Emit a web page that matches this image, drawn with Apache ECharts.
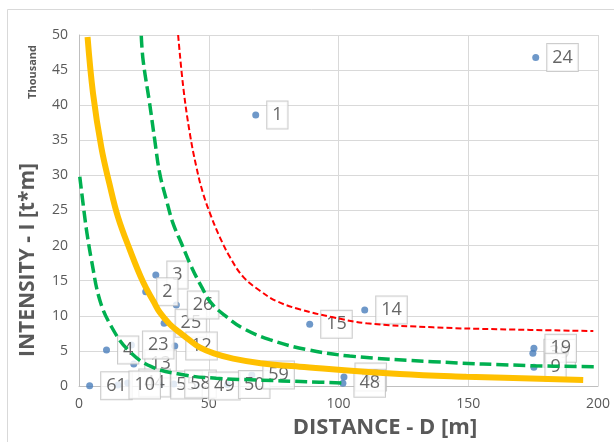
<!DOCTYPE html>
<html><head><meta charset="utf-8">
<script src="https://cdn.jsdelivr.net/npm/echarts@6/dist/echarts.min.js"></script>
<style>html,body{margin:0;padding:0;background:#fff}#c{width:614px;height:442px}</style>
</head><body><div id="c"></div>
<script>
// Measured points: [distance D (m), intensity I (t*m), label]
var points = [
  [68.1, 38600, '1'], [176, 46800, '24'], [29.6, 15800, '3'], [25.7, 13430, '2'],
  [32.8, 8930, '25'], [37.5, 11540, '26'], [10.6, 5130, '4'], [21.1, 3130, '13'],
  [20.2, 5840, '23'], [36.9, 5700, '12'], [4.1, 40, '61'], [18.8, 430, '44'],
  [15.0, 140, '10'], [31.1, 140, '55'], [36.5, 280, '58'], [45.7, 0, '49'],
  [57.2, 200, '50'], [66.6, 1570, '59'], [88.9, 8790, '15'], [110.1, 10830, '14'],
  [102.1, 1280, '52'], [101.7, 385, '48'], [174.9, 4650, '39'], [175.3, 5370, '19'],
  [175.3, 2660, '9']
];
// Curves
var orangeCurve = [[3.3,49700],[5.4,41700],[8.6,34000],[11.8,28700],[15,24100],[19.5,19500],[24.7,14800],[28.8,12000],[31.1,10500],[35,8800],[38.5,7700],[42.7,6500],[46.5,5500],[52,4650],[59.4,3900],[70,3250],[85,2750],[123.6,1710],[149.3,1330],[194.3,855]];
var greenUpper = [[24,49900],[24.7,46400],[27.2,40300],[29.2,35000],[31.1,30300],[33.7,26500],[36.2,23200],[39.5,20300],[43.3,17000],[47.2,14150],[51,11800],[56.8,9870],[63.2,8220],[73.5,6600],[87.6,5200],[104.3,4270],[136.4,3460],[175,2890],[199.4,2750]];
var greenLower = [[0.3,29800],[2.2,24100],[3.1,21700],[4.8,17950],[8,12250],[12.5,8450],[18.9,5130],[27.9,2750],[40.7,1570],[52.9,1100],[68.4,855],[87.6,610],[103,420]];
var redCurve = [[38.2,50000],[40.2,42500],[42.7,36000],[45.2,31250],[47.8,27450],[51,24100],[54.2,21250],[58.1,18400],[63.2,15580],[69.6,13600],[76.1,12100],[85,10930],[97.9,9790],[110.8,8930],[136.4,8360],[162.1,8080],[198.2,7830]];
var xTicks = [0, 50, 100, 150, 200];
var yTicks = [0, 5, 10, 15, 20, 25, 30, 35, 40, 45, 50];

var FONT = '"Open Sans", "DejaVu Sans", sans-serif';
var TXT = '#595959';
var chart = echarts.init(document.getElementById('c'), null, {renderer: 'canvas'});
chart.setOption({
  animation: false,
  backgroundColor: '#fff',
  grid: {left: 79, top: 35, right: 16, bottom: 56},
  xAxis: {
    type: 'value', min: xTicks[0], max: xTicks[xTicks.length - 1], interval: 50,
    axisLine: {lineStyle: {color: '#bfbfbf'}}, axisTick: {show: false},
    splitLine: {lineStyle: {color: '#d9d9d9'}},
    axisLabel: {color: TXT, fontFamily: FONT, fontSize: 14, margin: 11}
  },
  yAxis: {
    type: 'value', min: 0, max: yTicks[yTicks.length - 1] * 1000, interval: 5000,
    axisLine: {show: true, lineStyle: {color: '#bfbfbf'}}, axisTick: {show: false},
    splitLine: {lineStyle: {color: '#d9d9d9'}},
    axisLabel: {color: TXT, fontFamily: FONT, fontSize: 14, margin: 11,
      formatter: function (v) { return String(v / 1000); }}
  },
  graphic: [
    {type: 'rect', silent: true, z: -10, shape: {x: 7.5, y: 9.5, width: 700, height: 500}, style: {fill: 'none', stroke: '#d9d9d9', lineWidth: 1}},
    {type: 'text', x: 385, y: 428, style: {text: 'DISTANCE - D [m]', fill: TXT, font: 'bold 22px ' + FONT, align: 'center', verticalAlign: 'middle'}},
    {type: 'text', x: 28, y: 260, rotation: Math.PI / 2, style: {text: 'INTENSITY - I [t*m]', fill: TXT, font: 'bold 21px ' + FONT, align: 'center', verticalAlign: 'middle'}},
    {type: 'text', x: 33, y: 72, rotation: Math.PI / 2, style: {text: 'Thousand', fill: TXT, font: 'bold 11px ' + FONT, align: 'center', verticalAlign: 'middle'}}
  ],
  series: [
    {type: 'scatter', z: 2, data: points.map(function (p) { return {value: [p[0], p[1]], name: p[2]}; }),
      symbolSize: 7, itemStyle: {color: '#4a7ebb'},
      label: {show: true, position: 'right', distance: 8, formatter: '{b}', color: '#404040', fontFamily: FONT, fontSize: 18,
        backgroundColor: '#fff', borderColor: '#bfbfbf', borderWidth: 1, padding: [5, 5, 4, 5]}},
    {type: 'line', z: 5, data: greenLower, smooth: 0.4, showSymbol: false,
      lineStyle: {color: '#00b050', width: 3.5, type: [12, 5]}},
    {type: 'line', z: 5, data: greenUpper, smooth: 0.4, showSymbol: false,
      lineStyle: {color: '#00b050', width: 3.5, type: [12, 5]}},
    {type: 'line', z: 5, data: redCurve, smooth: 0.4, showSymbol: false,
      lineStyle: {color: '#ff0000', width: 2, type: [6, 3]}},
    {type: 'line', z: 6, data: orangeCurve, smooth: 0.4, showSymbol: false,
      lineStyle: {color: '#ffc000', width: 6}}
  ]
});
</script></body></html>
